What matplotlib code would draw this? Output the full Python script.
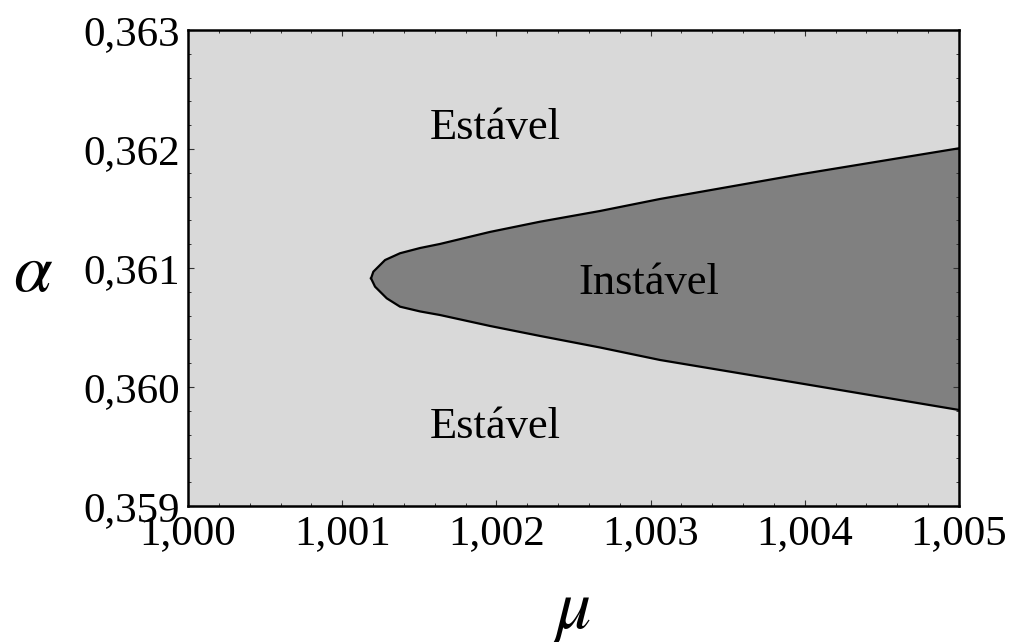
import matplotlib
matplotlib.use("Agg")
import matplotlib.pyplot as plt
from matplotlib.ticker import FixedLocator, FixedFormatter, MultipleLocator

plt.rcParams['font.family'] = ['Liberation Serif', 'DejaVu Serif']
plt.rcParams['mathtext.fontset'] = 'stix'

# Stability boundary in the (mu, alpha) plane
mu_upper = [1.001187, 1.001202, 1.001278, 1.001375, 1.001505, 1.001634, 1.001958,
            1.002283, 1.002672, 1.003061, 1.003320, 1.003969, 1.005]
alpha_upper = [0.360913, 0.360969, 0.361067, 0.361124, 0.361168, 0.361202, 0.361303,
               0.361389, 0.361479, 0.361580, 0.361639, 0.361787, 0.362006]
mu_lower = [1.001187, 1.001213, 1.001289, 1.001375, 1.001505, 1.001634, 1.001958,
            1.002283, 1.002672, 1.003061, 1.003320, 1.003969, 1.005]
alpha_lower = [0.360913, 0.360843, 0.360745, 0.360675, 0.360635, 0.360605, 0.360513,
               0.360429, 0.360332, 0.360227, 0.360171, 0.360031, 0.359807]

x_ticks = [1.000, 1.001, 1.002, 1.003, 1.004, 1.005]
x_tick_labels = ["1,000", "1,001", "1,002", "1,003", "1,004", "1,005"]
y_ticks = [0.359, 0.360, 0.361, 0.362, 0.363]
y_tick_labels = ["0,359", "0,360", "0,361", "0,362", "0,363"]

region_labels = ["Estável", "Instável", "Estável"]
region_mu = [1.00199, 1.00299, 1.00199]
region_alpha = [0.36208, 0.36078, 0.35957]

fig = plt.figure(figsize=(10.15, 6.42), dpi=100)
ax = fig.add_axes([188 / 1015, 1 - 506 / 642, 771 / 1015, 476 / 642])
ax.set_facecolor('#d9d9d9')

# Unstable region: upper branch out to the right edge, lower branch back to the tip
poly_mu = mu_upper + mu_lower[::-1]
poly_alpha = alpha_upper + alpha_lower[::-1]
ax.fill(poly_mu, poly_alpha, color='#808080', lw=0)
ax.plot(mu_upper, alpha_upper, color='black', lw=1.6, solid_joinstyle='round')
ax.plot(mu_lower, alpha_lower, color='black', lw=1.6, solid_joinstyle='round')

ax.set_xlim(1.000, 1.005)
ax.set_ylim(0.359, 0.363)

ax.xaxis.set_major_locator(FixedLocator(x_ticks))
ax.xaxis.set_major_formatter(FixedFormatter(x_tick_labels))
ax.yaxis.set_major_locator(FixedLocator(y_ticks))
ax.yaxis.set_major_formatter(FixedFormatter(y_tick_labels))
ax.xaxis.set_minor_locator(MultipleLocator(0.0002))
ax.yaxis.set_minor_locator(MultipleLocator(0.0002))

ax.tick_params(which='both', direction='in', top=True, right=True, color='#333333')
ax.tick_params(which='major', length=4, width=0.8, labelsize=31)
ax.tick_params(which='minor', length=2.5, width=0.7)
ax.tick_params(axis='y', which='major', pad=6)
ax.tick_params(axis='x', which='major', pad=6)

for s in ax.spines.values():
    s.set_linewidth(1.8)

for txt, m, a in zip(region_labels, region_mu, region_alpha):
    ax.text(m, a, txt, fontsize=32, ha='center', va='baseline')

fig.text(33 / 1015, 1 - 274 / 642, r'$\alpha$', fontsize=50, ha='center', va='center')
fig.text(572 / 1015, 1 - 612 / 642, r'$\mu$', fontsize=50, ha='center', va='center')

fig.savefig('out.png', dpi=100)
